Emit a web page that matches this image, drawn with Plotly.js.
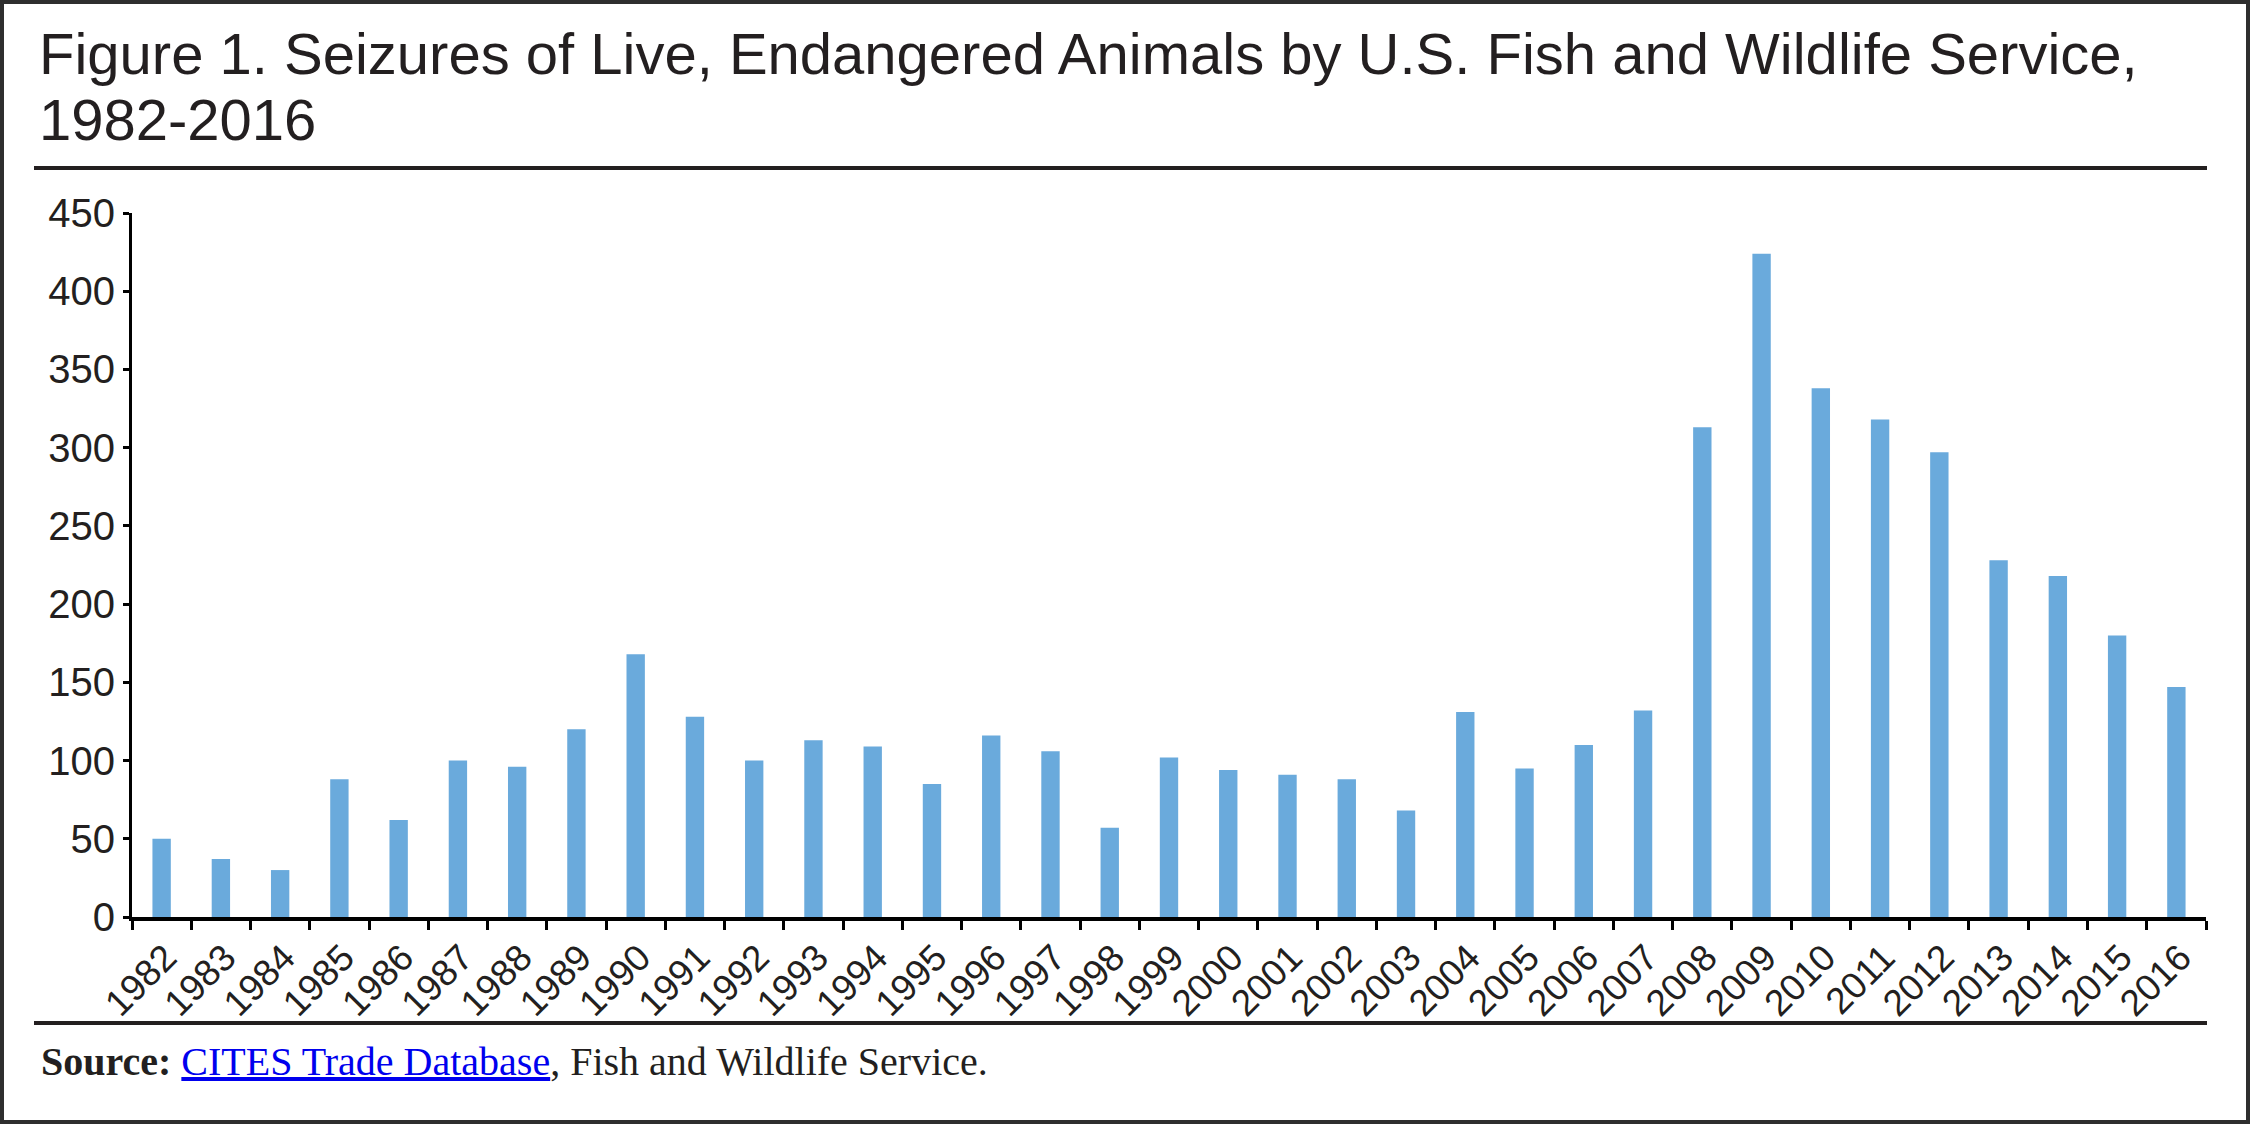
<!DOCTYPE html>
<html>
<head>
<meta charset="utf-8">
<script src="https://cdn.plot.ly/plotly-3.0.1.min.js"></script>
<style>
  html, body { margin: 0; padding: 0; background: #fff; }
  #wrap { position: relative; width: 2250px; height: 1124px; }
  #chart { position: absolute; left: 0; top: 0; width: 2250px; height: 1124px; }
  #frame { position: absolute; left: 0; top: 0; width: 2250px; height: 1124px;
           box-sizing: border-box; border: 4px solid #2e2e2e; pointer-events: none; }
</style>
</head>
<body>
<div id="wrap"><div id="chart"></div><div id="frame"></div></div>
<script>
// ---- data ----
const years = ["1982","1983","1984","1985","1986","1987","1988","1989","1990","1991",
               "1992","1993","1994","1995","1996","1997","1998","1999","2000","2001",
               "2002","2003","2004","2005","2006","2007","2008","2009","2010","2011",
               "2012","2013","2014","2015","2016"];
const seizures = [50, 37, 30, 88, 62, 100, 96, 120, 168, 128,
                  100, 113, 109, 85, 116, 106, 57, 102, 94, 91,
                  88, 68, 131, 95, 110, 132, 313, 424, 338, 318,
                  297, 228, 218, 180, 147];
const yTicks = [0, 50, 100, 150, 200, 250, 300, 350, 400, 450];

const titleLine1 = "Figure 1. Seizures of Live, Endangered Animals by U.S. Fish and Wildlife Service,";
const titleLine2 = "1982-2016";
const sourceText = "<b>Source:</b> <span style='color:#0000ee;text-decoration:underline'>CITES Trade Database</span>, Fish and Wildlife Service.";

// ---- layout geometry (pixels) ----
const W = 2250, H = 1124;
const L = 132, R = 44, T = 213, B = 207;
const pw = W - L - R, ph = H - T - B;
const px = x => (x - L) / pw;
const py = y => (H - B - y) / ph;

const ink = '#231f20';

const trace = {
  type: 'bar',
  x: years,
  y: seizures,
  marker: { color: '#6aaadc', line: { width: 0 } },
  hoverinfo: 'x+y'
};

const layout = {
  width: W, height: H,
  margin: { l: L, r: R, t: T, b: B, pad: 0 },
  paper_bgcolor: '#ffffff',
  plot_bgcolor: '#ffffff',
  showlegend: false,
  bargap: 0.69,
  font: { family: 'Liberation Sans, Arial, sans-serif', color: ink },
  xaxis: {
    type: 'category',
    showline: true, linecolor: '#000', linewidth: 4,
    ticks: 'outside', tickson: 'boundaries', ticklen: 9, tickwidth: 3, tickcolor: '#000',
    tickangle: -45,
    ticklabelshift: 4,
    tickfont: { size: 37, color: ink, family: 'Liberation Sans, Arial, sans-serif' },
    showgrid: false, zeroline: false, fixedrange: true
  },
  yaxis: {
    range: [0, 450],
    tickvals: yTicks,
    ticktext: yTicks.map(String),
    showline: true, linecolor: '#000', linewidth: 3,
    ticks: 'outside', ticklen: 6, tickwidth: 3, tickcolor: '#000',
    tickfont: { size: 40, color: ink, family: 'Liberation Sans, Arial, sans-serif' },
    showgrid: false, zeroline: false, fixedrange: true
  },
  shapes: [
    { type: 'line', xref: 'paper', yref: 'paper', x0: px(34), x1: px(2207), y0: py(168), y1: py(168),
      line: { color: ink, width: 4 } },
    { type: 'line', xref: 'paper', yref: 'paper', x0: px(34), x1: px(2207), y0: py(1023), y1: py(1023),
      line: { color: ink, width: 4 } }
  ],
  annotations: [
    { xref: 'paper', yref: 'paper', x: px(37), y: py(74 - 0.3465 * 58), xanchor: 'left', yanchor: 'middle',
      text: titleLine1, showarrow: false, align: 'left',
      font: { size: 58, color: ink, family: 'Liberation Sans, Arial, sans-serif' } },
    { xref: 'paper', yref: 'paper', x: px(37), y: py(140 - 0.3465 * 58), xanchor: 'left', yanchor: 'middle',
      text: titleLine2, showarrow: false, align: 'left',
      font: { size: 58, color: ink, family: 'Liberation Sans, Arial, sans-serif' } },
    { xref: 'paper', yref: 'paper', x: px(39), y: py(1075 - 0.3375 * 40), xanchor: 'left', yanchor: 'middle',
      text: sourceText, showarrow: false, align: 'left',
      font: { size: 40, color: ink, family: 'Liberation Serif, Times New Roman, serif' } }
  ]
};

Plotly.newPlot('chart', [trace], layout, { displayModeBar: false, staticPlot: true });
</script>
</body>
</html>
